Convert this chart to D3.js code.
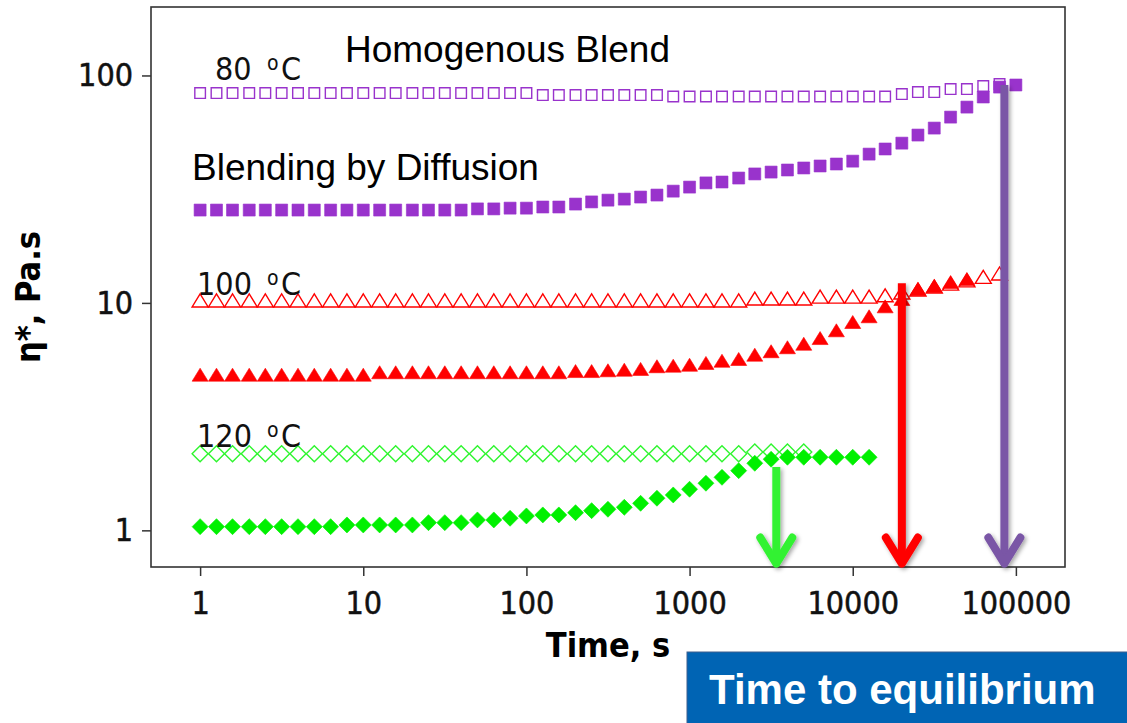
<!DOCTYPE html>
<html>
<head>
<meta charset="utf-8">
<script src="https://cdn.jsdelivr.net/npm/d3@7"></script>
<style>
	body { margin: 0; background: #fff; }
	svg { display: block; }
	.tick text { font-family: "DejaVu Sans Condensed", "DejaVu Sans", sans-serif; font-size: 32px; fill: #111; stroke: #111; stroke-width: 0.5; }
	.tick line { stroke: #333; stroke-width: 1.5; }
</style>
</head>
<body>
<svg id="chart" width="1127" height="723"></svg>
<script>

	// time axis, s (log spaced sampling)
	var time = [1, 1.26, 1.58, 2, 2.51, 3.16, 3.98, 5.01, 6.31, 7.94,
		10, 12.6, 15.8, 20, 25.1, 31.6, 39.8, 50.1, 63.1, 79.4,
		100, 126, 158, 200, 251, 316, 398, 501, 631, 794,
		1000, 1260, 1580, 2000, 2510, 3160, 3980, 5010, 6310, 7940,
		10000, 12600, 15800, 20000, 25100, 31600, 39800, 50100, 63100, 79400,
		100000];

	// eta*, Pa.s
	var homog80 = [83.7, 83.7, 83.7, 83.7, 83.7, 83.7, 83.7, 83.7, 83.7, 83.7,
		83.7, 83.7, 83.7, 83.7, 83.7, 83.7, 83.7, 83.7, 83.7, 83.7,
		83.7, 82.0, 82.0, 82.0, 82.0, 82.0, 82.0, 82.0, 82.0, 80.8,
		80.8, 80.8, 80.8, 80.8, 80.8, 80.8, 80.8, 80.8, 80.8, 80.8,
		80.8, 80.8, 80.8, 82.8, 84.5, 84.5, 87.1, 87.1, 89.8, 91.7];
	var diff80 = [25.6, 25.6, 25.6, 25.6, 25.6, 25.6, 25.6, 25.6, 25.6, 25.6,
		25.6, 25.6, 25.6, 25.6, 25.6, 25.6, 25.6, 25.9, 25.9, 26.1,
		26.1, 26.4, 26.4, 27.2, 27.8, 28.3, 28.6, 29.2, 29.8, 31.0,
		32.3, 33.7, 34.0, 35.4, 36.9, 37.6, 38.4, 39.2, 40.0, 40.8,
		42.0, 45.1, 47.5, 50.4, 54.7, 58.7, 65.6, 72.6, 80.4, 88.9,
		90.8];
	var homog100 = [10.2, 10.2, 10.2, 10.2, 10.2, 10.2, 10.2, 10.2, 10.2, 10.2,
		10.2, 10.2, 10.2, 10.2, 10.2, 10.2, 10.2, 10.2, 10.2, 10.2,
		10.2, 10.2, 10.2, 10.2, 10.2, 10.2, 10.2, 10.2, 10.2, 10.2,
		10.2, 10.2, 10.2, 10.2, 10.4, 10.4, 10.4, 10.4, 10.6, 10.6,
		10.6, 10.6, 10.75, 11.05, 11.4, 11.75, 12.1, 12.5, 12.95, 13.4];
	var diff100 = [4.81, 4.81, 4.81, 4.81, 4.81, 4.81, 4.81, 4.81, 4.81, 4.81,
		4.81, 4.93, 4.93, 4.93, 4.93, 4.93, 4.93, 4.93, 4.93, 4.93,
		4.93, 4.93, 4.93, 4.99, 4.99, 5.03, 5.06, 5.10, 5.24, 5.27,
		5.32, 5.42, 5.54, 5.64, 5.89, 6.10, 6.35, 6.58, 6.97, 7.54,
		8.20, 8.69, 9.61, 10.35, 11.45, 11.81, 12.29, 12.67];
	var homog120 = [2.17, 2.17, 2.17, 2.17, 2.17, 2.17, 2.17, 2.17, 2.17, 2.17,
		2.17, 2.17, 2.17, 2.17, 2.17, 2.17, 2.17, 2.17, 2.17, 2.17,
		2.17, 2.17, 2.17, 2.17, 2.17, 2.17, 2.17, 2.17, 2.17, 2.17,
		2.17, 2.17, 2.17, 2.17, 2.21, 2.21, 2.21, 2.21];
	var diff120 = [1.038, 1.038, 1.038, 1.038, 1.038, 1.038, 1.038, 1.038, 1.038, 1.056,
		1.056, 1.056, 1.056, 1.056, 1.081, 1.081, 1.081, 1.111, 1.111, 1.130,
		1.157, 1.169, 1.169, 1.196, 1.221, 1.238, 1.263, 1.315, 1.384, 1.431,
		1.516, 1.611, 1.711, 1.830, 1.972, 2.054, 2.096, 2.096, 2.096, 2.096,
		2.096, 2.096];

	var xTicks = [1, 10, 100, 1000, 10000, 100000];
	var yTicks = [1, 10, 100];

	// time to equilibrium arrows
	var eqTimes = [3400, 20000, 85000];
	var eqTops = [1.9, 12.2, 90.8];
	var eqColors = ["#33f233", "#ff0000", "#7a56a6"];

	var svg = d3.select("#chart");

	var x = d3.scaleLog().domain([0.5, 200000]).range([151, 1065]);
	var y = d3.scaleLog().domain([0.69, 200]).range([567, 7]);

	var defs = svg.append("defs");
	var shadow = defs.append("filter").attr("id", "shadow")
		.attr("x", "-50%").attr("y", "-10%").attr("width", "200%").attr("height", "120%");
	shadow.append("feDropShadow")
		.attr("dx", 2).attr("dy", 2).attr("stdDeviation", 2)
		.attr("flood-color", "#000").attr("flood-opacity", 0.35);

	// frame
	svg.append("rect")
		.attr("x", 151).attr("y", 7)
		.attr("width", 914).attr("height", 560)
		.attr("fill", "none")
		.attr("stroke", "#333")
		.attr("stroke-width", 1.6);

	var xAxis = svg.append("g")
		.attr("transform", "translate(0,567)")
		.call(d3.axisBottom(x).tickValues(xTicks).tickSize(9).tickPadding(15).tickFormat(d3.format("d")));
	xAxis.select(".domain").remove();

	var yAxis = svg.append("g")
		.attr("transform", "translate(151,0)")
		.call(d3.axisLeft(y).tickValues(yTicks).tickSize(9).tickPadding(9).tickFormat(d3.format("d")));
	yAxis.select(".domain").remove();

	svg.append("text")
		.attr("x", 608).attr("y", 657)
		.attr("text-anchor", "middle")
		.style("font-family", "'DejaVu Sans Condensed', 'DejaVu Sans', sans-serif")
		.style("font-weight", "bold")
		.style("font-size", "34px")
		.text("Time, s");

	svg.append("text")
		.attr("transform", "translate(40,297) rotate(-90)")
		.attr("text-anchor", "middle")
		.style("font-family", "'DejaVu Sans Condensed', 'DejaVu Sans', sans-serif")
		.style("font-weight", "bold")
		.style("font-size", "34px")
		.text("η*, Pa.s");

	var shapes = {
		square: "M-6,-6L6,-6L6,6L-6,6Z",
		openSquare: "M-5.3,-5.3L5.3,-5.3L5.3,5.3L-5.3,5.3Z",
		triangle: "M0,-7L8,6L-8,6Z",
		diamond: "M0,-8L8,0L0,8L-8,0Z"
	};

	var series = [
		{values: homog80, shape: shapes.openSquare, color: "#9933cc", open: true, fill: "#fff"},
		{values: diff80, shape: shapes.square, color: "#9933cc", open: false},
		{values: homog100, shape: shapes.triangle, color: "#ff0000", open: true, fill: "#fff"},
		{values: diff100, shape: shapes.triangle, color: "#ff0000", open: false},
		{values: homog120, shape: shapes.diamond, color: "#2ef52e", open: true, fill: "none"},
		{values: diff120, shape: shapes.diamond, color: "#00f000", open: false}
	];

	series.forEach(function (s, k) {
		var pts = s.values.map(function (v, i) { return {t: time[i], v: v}; });
		svg.append("g").attr("class", "series-" + k)
			.selectAll("path")
			.data(pts)
			.enter().append("path")
			.attr("d", s.shape)
			.attr("transform", function (d) {
				return "translate(" + x(d.t) + "," + y(d.v) + ")";
			})
			.style("fill", s.open ? s.fill : s.color)
			.style("stroke", s.color)
			.style("stroke-width", s.open ? 1.4 : 0.6);
	});

	// arrows
	var arrows = svg.append("g").attr("filter", "url(#shadow)");
	eqTimes.forEach(function (t, i) {
		var ax = x(t);
		var top = y(eqTops[i]);
		var tip = y(0.7);
		arrows.append("line")
			.attr("x1", ax).attr("x2", ax)
			.attr("y1", top).attr("y2", tip - 4)
			.attr("stroke", eqColors[i])
			.attr("stroke-width", 8);
		arrows.append("path")
			.attr("d", "M" + (ax - 16) + "," + (tip - 28) + "L" + ax + "," + (tip - 2) + "L" + (ax + 16) + "," + (tip - 28))
			.attr("fill", "none")
			.attr("stroke", eqColors[i])
			.attr("stroke-width", 8)
			.attr("stroke-linecap", "round")
			.attr("stroke-linejoin", "round");
	});

	// temperature labels
	var tempLabels = [
		{num: "80", x: 215, y: 80},
		{num: "100", x: 197, y: 295},
		{num: "120", x: 197, y: 447}
	];
	tempLabels.forEach(function (d) {
		var t = svg.append("text")
			.attr("y", d.y)
			.style("font-family", "'DejaVu Sans Condensed', 'DejaVu Sans', sans-serif")
			.style("font-size", "32px")
			.style("fill", "#111");
		t.append("tspan").attr("x", d.x).text(d.num);
		t.append("tspan").attr("x", 267).attr("dy", -10).style("font-size", "21px").text("o");
		t.append("tspan").attr("x", 281).attr("dy", 10).text("C");
	});

	var notes = svg.append("g")
		.style("font-family", "'Liberation Sans', Arial, sans-serif")
		.style("font-size", "37px")
		.style("fill", "#000");
	notes.append("text").attr("x", 345).attr("y", 62).text("Homogenous Blend");
	notes.append("text").attr("x", 192).attr("y", 180).text("Blending by Diffusion");

	// callout box
	svg.append("rect")
		.attr("x", 687).attr("y", 652)
		.attr("width", 460).attr("height", 90)
		.attr("fill", "#0064b4")
		.attr("stroke", "#3c5f8e")
		.attr("stroke-width", 1);
	svg.append("text")
		.attr("x", 709).attr("y", 704)
		.style("font-family", "'Liberation Sans', Arial, sans-serif")
		.style("font-weight", "bold")
		.style("font-size", "42px")
		.style("fill", "#fff")
		.text("Time to equilibrium");

</script>
</body>
</html>
